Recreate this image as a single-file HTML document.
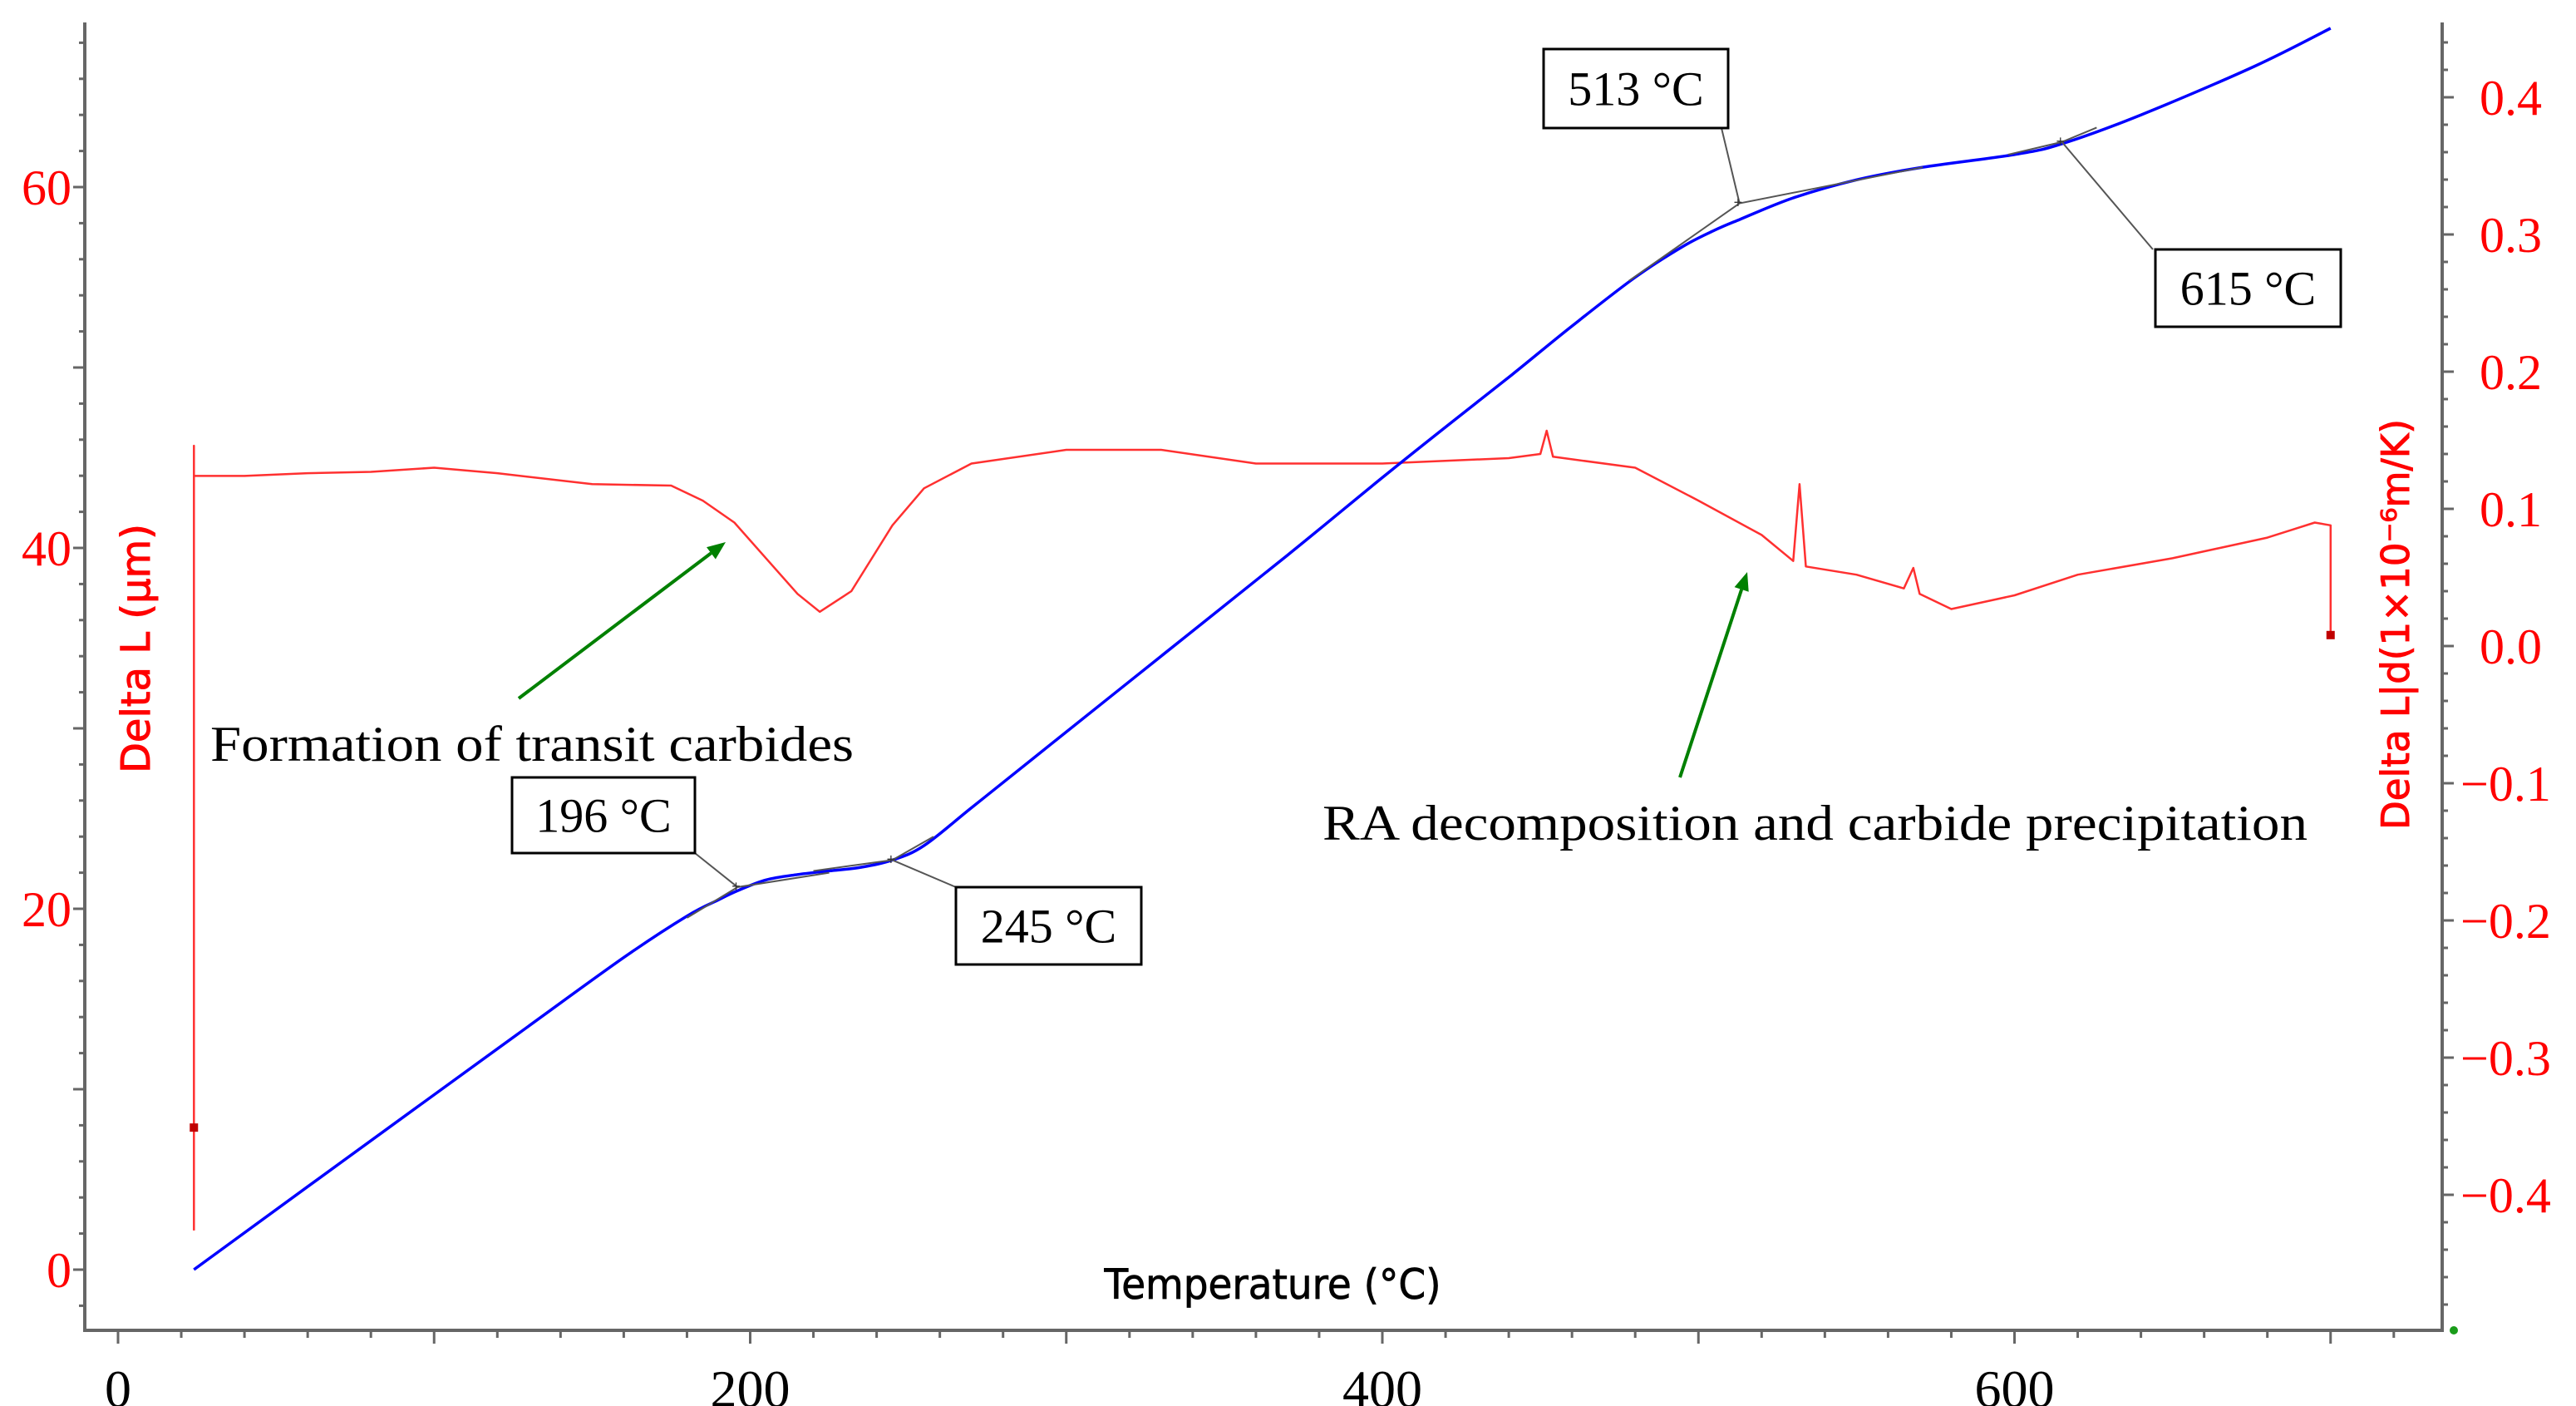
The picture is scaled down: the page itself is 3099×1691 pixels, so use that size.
<!DOCTYPE html>
<html><head><meta charset="utf-8"><style>
html,body{margin:0;padding:0;background:#fff;}
svg{display:block;}
</style></head><body>
<svg id="chart" xmlns="http://www.w3.org/2000/svg" width="3099" height="1691" viewBox="0 0 3099 1691">
<rect x="0" y="0" width="3099" height="1691" fill="#fff"/>
<g id="grid"></g>
<g id="series"></g>
<g id="annot"></g>
</svg>
<script>
// ---- data ----
const xTicks = [0, 200, 400, 600];
const leftTicks = [0, 20, 40, 60];
const rightTicks = [0.4, 0.3, 0.2, 0.1, 0.0, -0.1, -0.2, -0.3, -0.4];
const rightTickLabels = ["0.4","0.3","0.2","0.1","0.0","\u22120.1","\u22120.2","\u22120.3","\u22120.4"];
const blueT = [24, 60, 126, 160, 180, 190, 196, 205, 215, 225, 235, 245, 255, 270, 290, 330, 370, 400, 420, 441, 460, 480, 495, 505, 513, 530, 550, 571, 600, 615, 640, 676, 700];
const blueL = [0, 4.6, 13.0, 17.3, 19.6, 20.5, 21.0, 21.6, 21.9, 22.1, 22.3, 22.7, 23.5, 25.6, 28.4, 34.0, 39.6, 43.9, 46.7, 49.6, 52.3, 55.0, 56.7, 57.6, 58.2, 59.4, 60.4, 61.1, 61.8, 62.4, 64.0, 66.7, 68.8];
const redT = [24, 24, 24, 40, 60, 80, 100, 120, 150, 175, 185, 195, 205, 215, 222, 232, 245, 255, 270, 300, 330, 360, 400, 440, 450, 452, 454, 480, 500, 520, 530, 532, 534, 550, 565, 568, 570, 580, 600, 620, 650, 680, 695, 700, 700];
const redV = [-0.426, 0.146, 0.124, 0.124, 0.126, 0.127, 0.130, 0.126, 0.118, 0.117, 0.106, 0.090, 0.064, 0.038, 0.025, 0.040, 0.088, 0.115, 0.133, 0.143, 0.143, 0.133, 0.133, 0.137, 0.140, 0.157, 0.138, 0.130, 0.106, 0.081, 0.062, 0.118, 0.058, 0.052, 0.042, 0.057, 0.038, 0.027, 0.037, 0.052, 0.064, 0.079, 0.090, 0.088, 0.008];
const calloutT = [196, 245, 513, 615];
const calloutL = [21.2, 22.7, 59.1, 62.5];
const calloutLabels = ["196 \u00B0C", "245 \u00B0C", "513 \u00B0C", "615 \u00B0C"];

// ---- scales ----
const X = t => 142 + t * 3.8025;
const YL = v => 1527 - v * 21.7;
const YR = v => 777 - v * 1650;
const NS = "http://www.w3.org/2000/svg";
function mk(tag, attrs, parent, text) {
  const e = document.createElementNS(NS, tag);
  for (const k in attrs) e.setAttribute(k, attrs[k]);
  if (text !== undefined) e.textContent = text;
  parent.appendChild(e);
  return e;
}
const grid = document.getElementById('grid');
const series = document.getElementById('series');
const annot = document.getElementById('annot');
const AX = "#666";

let a = mk('path', {d: 'M102,27 V1600 H2938 V27', fill: 'none', stroke: AX, 'stroke-width': 4}, grid);



for (let t = 0; t <= 730; t += 20) {
  const major = t % 100 === 0;
  const tk = mk('line', {x1: X(t), x2: X(t), y1: 1600, y2: 1600 + (major ? 16 : 9), stroke: AX, 'stroke-width': 3}, grid);
  
  
}
xTicks.forEach(t => {
  const tl = mk('text', {x: X(t), y: 1692, 'text-anchor': 'middle', 'font-family': 'Liberation Serif, serif', 'font-size': 64, fill: '#000'}, grid, String(t));
  
  
});
for (let v = -2; v <= 68; v += 2) {
  const major = v % 10 === 0;
  const tk = mk('line', {x1: 102, x2: 102 - (major ? 14 : 7), y1: YL(v), y2: YL(v), stroke: AX, 'stroke-width': 3}, grid);
  
  
}
leftTicks.forEach(v => {
  const tl = mk('text', {x: 86, y: YL(v) + 21, 'text-anchor': 'end', 'font-family': 'Liberation Serif, serif', 'font-size': 60, fill: '#ff0000'}, grid, String(v));
  
  
});
for (let i = -24; i <= 22; i++) {
  const v = i * 0.02;
  const major = i % 5 === 0;
  const tk = mk('line', {x1: 2938, x2: 2938 + (major ? 14 : 7), y1: YR(v), y2: YR(v), stroke: AX, 'stroke-width': 3}, grid);
  
  
}
rightTicks.forEach((v, i) => {
  const tl = mk('text', {x: rightTickLabels[i].startsWith('\u2212') ? 2960 : 2983, y: YR(v) + 21, 'font-family': 'Liberation Serif, serif', 'font-size': 60, fill: '#ff0000'}, grid, rightTickLabels[i]);
  
  
});
let t1 = mk('text', {x: 0, y: 0, transform: 'translate(180,780) rotate(-90)', 'text-anchor': 'middle', 'font-family': 'DejaVu Sans, sans-serif', 'font-size': 48, fill: '#ff0000', stroke: '#ff0000', 'stroke-width': 1}, grid, 'Delta L (\u00B5m)');


let t2 = mk('text', {x: 0, y: 0, transform: 'translate(2898,751) rotate(-90)', 'text-anchor': 'middle', 'font-family': 'DejaVu Sans, sans-serif', 'font-size': 46, fill: '#ff0000', stroke: '#ff0000', 'stroke-width': 1, textLength: 494, lengthAdjust: 'spacingAndGlyphs'}, grid, 'Delta L|d(1\u00D710\u207B\u2076m/K)');


let t3 = mk('text', {x: 1531, y: 1562, 'text-anchor': 'middle', 'font-family': 'DejaVu Sans, sans-serif', 'font-size': 50, fill: '#000', stroke: '#000', 'stroke-width': 0.8, textLength: 405, lengthAdjust: 'spacingAndGlyphs'}, grid, 'Temperature (\u00B0C)');


let gd = mk('circle', {cx: 2952, cy: 1600, r: 5, fill: '#1a9c1a'}, grid);



let rd = redT.map((t, i) => (i ? 'L' : 'M') + X(t).toFixed(1) + ',' + YR(redV[i]).toFixed(1)).join(' ');
let rp = mk('path', {d: rd, fill: 'none', stroke: '#ff3030', 'stroke-width': 2.5, 'stroke-linejoin': 'round'}, series);


let rm1 = mk('rect', {x: X(redT[0]) - 5, y: YR(-0.351) - 5, width: 10, height: 10, fill: '#c00000'}, series);


let rm2 = mk('rect', {x: X(redT[redT.length - 1]) - 5, y: YR(redV[redV.length - 1]) - 5, width: 10, height: 10, fill: '#c00000'}, series);



const bp = blueT.map((t, i) => [X(t), YL(blueL[i])]);
let bd = 'M' + bp[0][0] + ',' + bp[0][1];
for (let i = 0; i < bp.length - 1; i++) {
  const p0 = bp[Math.max(0, i - 1)], p1 = bp[i], p2 = bp[i + 1], p3 = bp[Math.min(bp.length - 1, i + 2)];
  const c1 = [p1[0] + (p2[0] - p0[0]) / 6, p1[1] + (p2[1] - p0[1]) / 6];
  const c2 = [p2[0] - (p3[0] - p1[0]) / 6, p2[1] - (p3[1] - p1[1]) / 6];
  bd += ` C${c1[0].toFixed(1)},${c1[1].toFixed(1)} ${c2[0].toFixed(1)},${c2[1].toFixed(1)} ${p2[0].toFixed(1)},${p2[1].toFixed(1)}`;
}
let bl = mk('path', {d: bd, fill: 'none', stroke: '#0000ff', 'stroke-width': 3.5}, series);



const tangents = [[[180, 19.5], [196, 21.2], [225, 22.0]], [[220, 22.1], [245, 22.7], [258, 24.0]], [[478, 54.8], [513, 59.1], [571, 61.1]], [[598, 61.8], [615, 62.5], [626, 63.3]]];
tangents.forEach(seg => {
  const tg = mk('polyline', {points: seg.map(p => X(p[0]) + ',' + YL(p[1])).join(' '), fill: 'none', stroke: '#555', 'stroke-width': 2}, annot);
  
  
});

const boxes = [[616, 935, 836, 1026, 836, 1026], [1150, 1067, 1373, 1160, 1150, 1067], [1857, 59, 2079, 154, 2071, 154], [2593, 300, 2816, 393, 2590, 300]];
calloutT.forEach((t, i) => {
  const b = boxes[i];
  const g = mk('g', {}, annot);
  
  
  mk('line', {x1: b[4], y1: b[5], x2: X(t), y2: YL(calloutL[i]), stroke: '#555', 'stroke-width': 2}, g);
  mk('text', {x: X(t) - 7, y: YL(calloutL[i]) + 5, 'font-size': 18, 'font-family': 'Liberation Sans, sans-serif', fill: '#333'}, g, '+');
  mk('rect', {x: b[0], y: b[1], width: b[2] - b[0], height: b[3] - b[1], fill: '#fff', stroke: '#000', 'stroke-width': 3}, g);
  mk('text', {x: (b[0] + b[2]) / 2, y: (b[1] + b[3]) / 2 + 20, 'text-anchor': 'middle', 'font-family': 'Liberation Serif, serif', 'font-size': 58, fill: '#000'}, g, calloutLabels[i]);
});

let at1 = mk('text', {x: 253, y: 915, 'font-family': 'Liberation Serif, serif', 'font-size': 60, fill: '#000', textLength: 774, lengthAdjust: 'spacingAndGlyphs'}, annot, 'Formation of transit carbides');


let at2 = mk('text', {x: 1591, y: 1010, 'font-family': 'Liberation Serif, serif', 'font-size': 60, fill: '#000', textLength: 1185, lengthAdjust: 'spacingAndGlyphs'}, annot, 'RA decomposition and carbide precipitation');


function arrow(x1, y1, x2, y2, name) {
  const g = mk('g', {}, annot);
  
  
  const ang = Math.atan2(y2 - y1, x2 - x1), L = 22, W = 9;
  const bx = x2 - L * Math.cos(ang), by = y2 - L * Math.sin(ang);
  mk('line', {x1, y1, x2: bx, y2: by, stroke: '#008000', 'stroke-width': 4}, g);
  mk('polygon', {points: `${x2},${y2} ${bx - W * Math.sin(ang)},${by + W * Math.cos(ang)} ${bx + W * Math.sin(ang)},${by - W * Math.cos(ang)}`, fill: '#008000'}, g);
}
arrow(624, 840, 873, 652, 'transit-carbides-arrow');
arrow(2021, 935, 2102, 688, 'ra-decomposition-arrow');
</script>
</body></html>
